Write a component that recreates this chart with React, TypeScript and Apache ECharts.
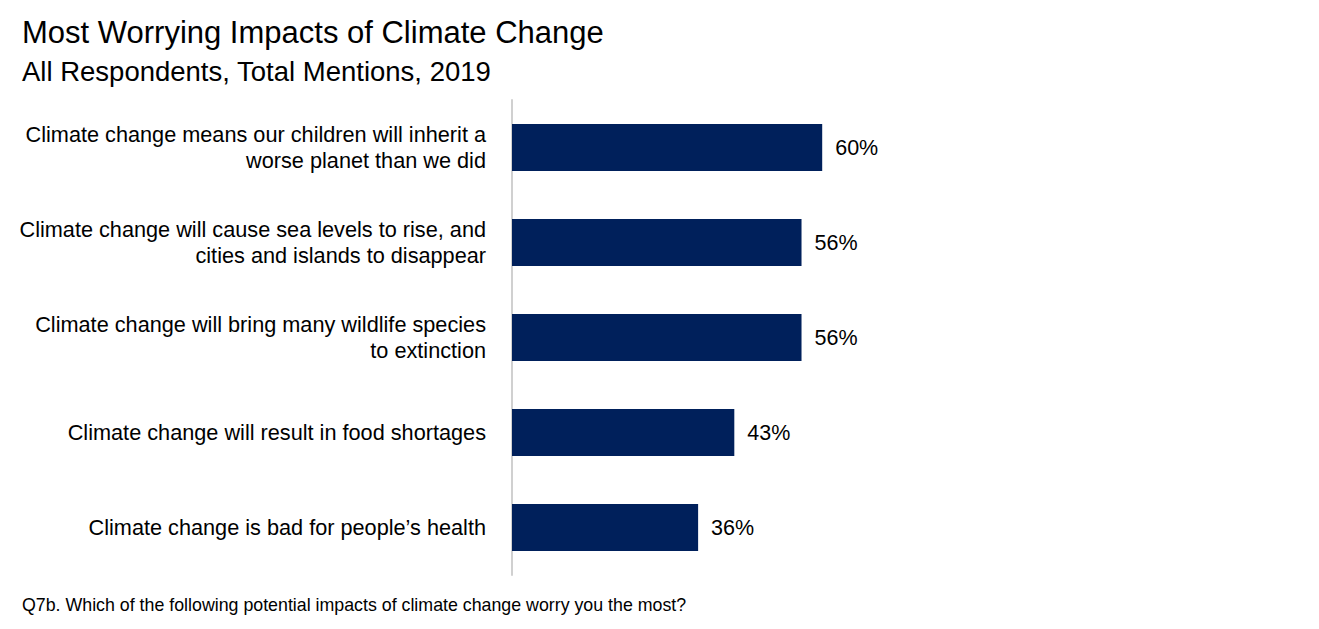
import React, { useEffect, useRef } from "react";
import * as echarts from "echarts";

const titleText = "Most Worrying Impacts of Climate Change";
const subtitleText = "All Respondents, Total Mentions, 2019";
const footnoteText = "Q7b. Which of the following potential impacts of climate change worry you the most?";

const categories = [
  "Climate change means our children will inherit a\nworse planet than we did",
  "Climate change will cause sea levels to rise, and\ncities and islands to disappear",
  "Climate change will bring many wildlife species\nto extinction",
  "Climate change will result in food shortages",
  "Climate change is bad for people\u2019s health",
];
const values = [60, 56, 56, 43, 36];

const FONT = "'Liberation Sans', Arial, sans-serif";

export default function App() {
  const ref = useRef<HTMLDivElement>(null);
  useEffect(() => {
    if (!ref.current) return;
    const chart = echarts.init(ref.current, undefined, { renderer: "svg" });
    chart.setOption({
      animation: false,
      backgroundColor: "#ffffff",
      title: [
        {
          text: titleText,
          left: 9,
          top: 4,
          textStyle: { fontFamily: FONT, fontSize: 31, fontWeight: "normal", color: "#000" },
        },
        {
          text: subtitleText,
          left: 9,
          top: 44,
          textStyle: { fontFamily: FONT, fontSize: 27.5, fontWeight: "normal", color: "#000" },
        },
        {
          text: footnoteText,
          left: 9,
          top: 583,
          textStyle: { fontFamily: FONT, fontSize: 17.8, fontWeight: "normal", color: "#000" },
        },
      ],
      grid: { left: 504, top: 92, width: 517, height: 475, containLabel: false },
      xAxis: {
        type: "value",
        min: 0,
        max: 100,
        show: false,
      },
      yAxis: {
        type: "category",
        data: categories,
        inverse: true,
        axisLine: { show: true, lineStyle: { color: "#d0d0d0", width: 2 } },
        axisTick: { show: false },
        axisLabel: {
          margin: 26,
          fontFamily: FONT,
          fontSize: 21.7,
          color: "#000",
          lineHeight: 26,
          align: "right",
        },
      },
      series: [
        {
          type: "bar",
          data: values,
          barWidth: 47,
          itemStyle: { color: "#00205B" },
          label: {
            show: true,
            position: "right",
            distance: 13,
            formatter: "{c}%",
            fontFamily: FONT,
            fontSize: 21.5,
            color: "#000",
          },
        },
      ],
    });
    return () => chart.dispose();
  }, []);
  return <div ref={ref} style={{ width: 1303, height: 613 }} />;
}
